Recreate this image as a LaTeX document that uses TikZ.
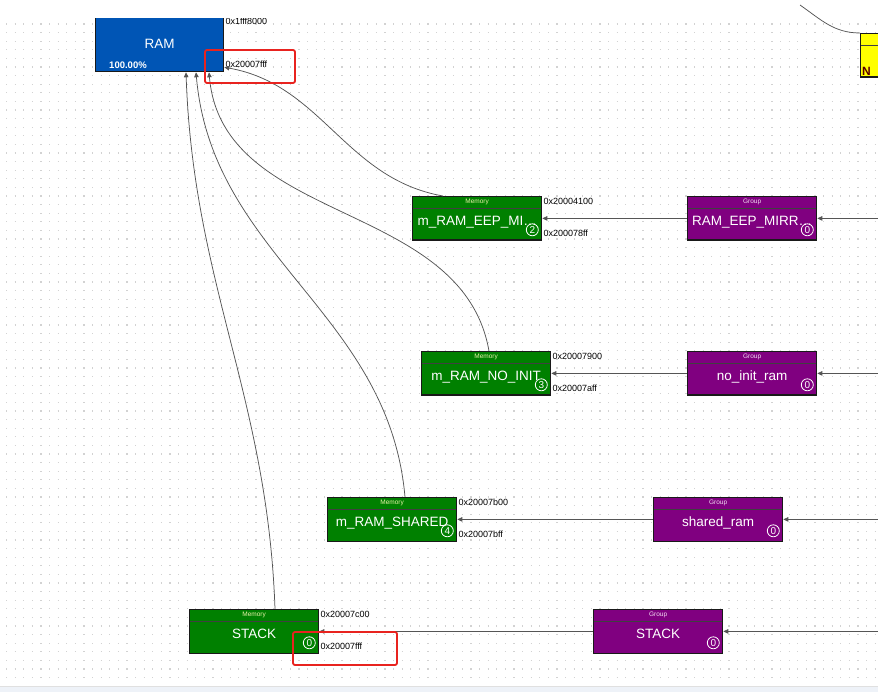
\documentclass[tikz,border=0pt]{standalone}
\usepackage{fontspec}
\setmainfont{Liberation Sans}
\usetikzlibrary{arrows.meta,calc}
\definecolor{memgreen}{HTML}{008000}
\definecolor{grppurple}{HTML}{800080}
\definecolor{ramblue}{HTML}{0055B5}
\definecolor{nvyellow}{HTML}{FFFF00}
\definecolor{hilite}{HTML}{E8231F}
\definecolor{dotgrey}{HTML}{D2D2D2}
\definecolor{wiregrey}{HTML}{555555}
\definecolor{barblue}{HTML}{EEF2F8}
\definecolor{memhdr}{HTML}{E8F2A8}
\definecolor{grphdr}{HTML}{F2DDF2}
\definecolor{nvmtext}{HTML}{5A0000}
\tikzset{
  blk/.style={draw=black!90, line width=1.3pt, minimum width=129pt, minimum height=43.5pt,
    inner sep=0pt, anchor=north west, text=white, font=\fontsize{13.5}{15}\selectfont,
    text height=15pt, text depth=0pt,
    path picture={\draw[black!75, line width=0.8pt]
      ([yshift=-12pt]path picture bounding box.north west) -- ([yshift=-12pt]path picture bounding box.north east);}},
  mem/.style={blk, fill=memgreen}, grp/.style={blk, fill=grppurple},
  hdr/.style={inner sep=0pt, font=\fontsize{6.5}{7}\selectfont},
  cnt/.style={circle, draw=white, line width=0.8pt, text=white, inner sep=0pt, minimum size=12pt,
    font=\fontsize{10}{10}\selectfont},
  addr/.style={anchor=west, inner sep=0pt, font=\fontsize{9}{10}\selectfont},
  link/.style={draw=wiregrey, line width=0.75pt, -{Triangle[length=5pt,width=4.5pt]}},
  wire/.style={draw=wiregrey, line width=0.75pt},
  griddot/.style={dotgrey, line width=1.2pt, dash pattern=on 1.2pt off 7.4pt},
  hl/.style={draw=hilite, line width=1.8pt, rounded corners=2pt},
}
\begin{document}
\begin{tikzpicture}[x=1pt, y=-1pt]
  \useasboundingbox (0,0) rectangle (878,692);
  \clip (0,0) rectangle (878,692);
  % dotted canvas
  \foreach \r in {0,...,76} \draw[griddot] (6,{24+8.6*\r}) -- (878,{24+8.6*\r});
  \fill[barblue] (0,686) rectangle (878,692);
  \draw[black!12] (0,686) -- (878,686);

  % RAM region (cut at the top)
  \begin{scope}
    \clip (0,19) rectangle (878,692);
    \node[draw=black!90, line width=1.3pt, fill=ramblue, text=white, anchor=north west,
      minimum width=128pt, minimum height=59pt, inner sep=0pt, text height=12pt, text depth=0pt,
      font=\fontsize{13.5}{15}\selectfont] (ram) at (95,12) {RAM};
    \node[addr] (ramhi) at ([shift={(1pt,-9pt)}]ram.north east) {0x1fff8000};
  \end{scope}
  \node[addr] (ramlo) at ([shift={(1pt,8pt)}]ram.south east) {0x20007fff};
  \node[text=white, inner sep=0pt, font=\fontsize{9.5}{10}\selectfont\bfseries] (ramp)
    at ([shift={(33pt,7pt)}]ram.south west) {100.00\%};

  % memories
  \foreach \n/\x/\y/\t/\k/\a/\b in {
      eep/412/196/m\_RAM\_EEP\_MI\ldots/2/0x20004100/0x200078ff,
      noinit/421/351/m\_RAM\_NO\_INIT/3/0x20007900/0x20007aff,
      shared/327/497/m\_RAM\_SHARED/4/0x20007b00/0x20007bff,
      stk/189/609/STACK/0/0x20007c00/0x20007fff} {
    \node[mem] (\n) at (\x,\y) {\t};
    \node[hdr, text=memhdr] (\n hdr) at ([yshift=-6pt]\n.north) {Memory};
    \node[cnt] (\n cnt) at ([shift={(-10pt,11pt)}]\n.south east) {\k};
    \node[addr] (\n hi) at ([shift={(1pt,-5pt)}]\n.north east) {\a};
    \node[addr] (\n lo) at ([shift={(1pt,8pt)}]\n.south east) {\b};
  }

  % groups
  \foreach \n/\x/\y/\t/\m in {
      geep/687/196/RAM\_EEP\_MIRR\ldots/eep,
      gnoinit/687/351/no\_init\_ram/noinit,
      gshared/653/497/shared\_ram/shared,
      gstk/593/609/STACK/stk} {
    \node[grp] (\n) at (\x,\y) {\t};
    \node[hdr, text=grphdr] (\n hdr) at ([yshift=-6pt]\n.north) {Group};
    \node[cnt] (\n cnt) at ([shift={(-10pt,11pt)}]\n.south east) {0};
    \coordinate (\n src) at ([xshift=250pt]\n.east);
    \draw[link] (\n src) -- (\n.east);
    \draw[link] (\n) -- (\m);
  }

  % memories into RAM
  \draw[link] ([xshift=31pt]eep.north west) to[out=170, in=-10] ([yshift=5pt]ram.south east);
  \draw[link] ([xshift=68pt]noinit.north west) to[out=100, in=-85] ([xshift=114pt]ram.south west);
  \draw[link] ([xshift=78pt]shared.north west) to[out=95, in=-85] ([xshift=101pt]ram.south west);
  \draw[link] ([xshift=86pt]stk.north west) to[out=92, in=-88] ([xshift=91pt]ram.south west);

  % region at the top right
  \node[blk, fill=nvyellow] (nvm) at (860,33) {};
  \node[anchor=south west, inner sep=0pt, text=nvmtext, font=\fontsize{12}{12}\selectfont\bfseries]
    (nvmtxt) at (862,76) {N};
  \coordinate (nvmsrc) at (800,5);
  \draw[wire] (nvmsrc) to[out=-35, in=180] (nvm.north west);

  % highlights
  \draw[hl] (205,50) rectangle (295,83);
  \draw[hl] (293,632) rectangle (397,665);
\end{tikzpicture}
\end{document}
